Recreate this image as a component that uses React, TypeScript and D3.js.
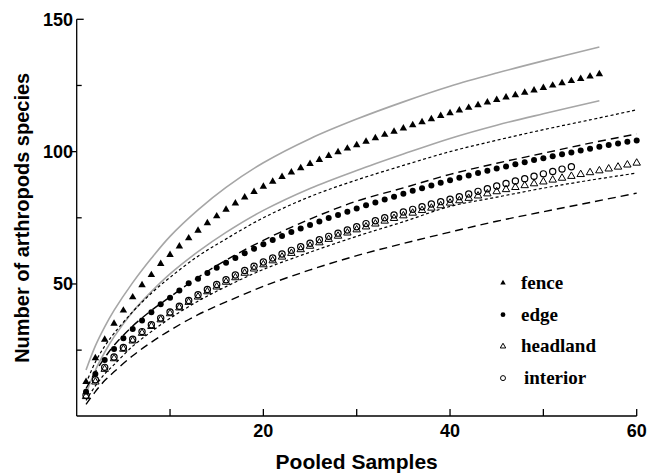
import React from "react";
import * as d3 from "d3";

// ---------- data ----------
const fenceX = d3.range(1, 57);
const fenceY = [13, 22, 29, 35, 40, 45, 49.6, 53.4, 57.6, 61, 64.2, 67.3, 70.2, 73, 75.6, 78.1, 80.5, 82.7, 84.8, 86.8,
  88.7, 90.5, 92.2, 93.8, 95.4, 96.9, 98.4, 99.8, 101.2, 102.5, 103.8, 105.1, 106.4, 107.6, 108.8, 110, 111.2, 112.3, 113.5, 114.6,
  115.6, 116.6, 117.6, 118.6, 119.6, 120.5, 121.4, 122.3, 123.2, 124.1, 125, 125.9, 126.7, 127.5, 128.4, 129.3];

const edgeX = d3.range(1, 61);
const edgeY = [9.3, 16, 21.3, 25.4, 29.5, 33, 36.2, 39.3, 42.3, 44.8, 47.5, 50.3, 52, 54.1, 56.1, 58.0, 59.8, 61.6, 63.3, 65.0,
  66.6, 68.1, 69.6, 71.0, 72.3, 73.6, 74.9, 76.1, 77.3, 78.5, 79.7, 80.8, 81.9, 83.0, 84.1, 85.2, 86.2, 87.2, 88.2, 89.2,
  90.1, 91.0, 91.9, 92.8, 93.6, 94.4, 95.2, 96.0, 96.8, 97.5, 98.3, 99.0, 99.7, 100.4, 101.1, 101.8, 102.5, 103.1, 103.7, 104.2];

const headlandX = d3.range(1, 61);
const headlandY = [7.5, 13, 17.8, 21.8, 25.4, 28.5, 31.4, 34, 36.5, 38.8, 41, 43.1, 45.1, 47.1, 48.9, 50.7, 52.4, 54.1, 55.7, 57.3,
  58.8, 60.2, 61.6, 63, 64.3, 65.6, 66.9, 68.1, 69.3, 70.5, 71.6, 72.7, 73.8, 74.8, 75.8, 76.8, 77.8, 78.7, 79.6, 80.6,
  81.5, 82.4, 83.3, 84.1, 84.9, 85.7, 86.5, 87.2, 87.9, 88.6, 89.3, 90.0, 90.7, 91.4, 92.1, 92.8, 93.5, 94.2, 95.0, 95.7];

const interiorX = d3.range(1, 54);
const interiorY = [8, 13.8, 18.5, 22.4, 26, 29.1, 32, 34.6, 37.1, 39.4, 41.6, 43.8, 45.9, 47.9, 49.8, 51.6, 53.4, 55.1, 56.7, 58.3,
  59.8, 61.3, 62.7, 64.1, 65.4, 66.7, 68.0, 69.2, 70.4, 71.6, 72.8, 73.9, 75.0, 76.1, 77.2, 78.2, 79.2, 80.2, 81.1, 82.0,
  83.0, 84.0, 85.0, 86.0, 87.0, 88.0, 88.9, 89.8, 90.7, 91.6, 92.5, 93.4, 94.3];

// confidence bands (x positions and values)
const fenceCiX = [1, 2, 3, 4, 6, 8, 10, 13, 16, 20, 25, 30, 35, 40, 45, 50, 56];
const fenceUpper = [17.5, 26.6, 33.8, 40, 50.5, 59.7, 68, 78, 86.5, 95.8, 104.9, 112.3, 118.8, 124.7, 129.7, 134.3, 139.5];
const fenceLower = [8.5, 17.4, 24.2, 30, 39.5, 47.1, 53.8, 62.2, 69.5, 77.8, 86.1, 92.9, 99.1, 105, 110, 114.3, 119.2];

const ciX = [1, 2, 3, 4, 6, 8, 10, 13, 16, 20, 25, 30, 35, 40, 45, 50, 55, 60];
const edgeUpper = [12.5, 20.5, 26.5, 31.3, 39.5, 46.5, 52.5, 60.5, 67, 75, 83, 89.3, 94.8, 100, 104.3, 108.3, 112, 115.8];
const edgeLower = [6, 11.5, 16, 19.5, 26.5, 32, 37, 43.5, 49, 55.5, 62, 68, 73.5, 79.3, 82.8, 86.2, 89.2, 91.9];
const headlandUpper = [10.5, 16.7, 22.1, 26.8, 34.1, 40, 45.1, 52.5, 59, 66.5, 74.5, 81.3, 86.3, 91.4, 95.6, 99.4, 103.2, 106.7];
const headlandLower = [4.5, 9.3, 13.5, 16.8, 22.9, 28, 32.5, 38.4, 43.2, 49.1, 55.3, 60.7, 65.3, 69.6, 73.7, 77.3, 80.8, 84.3];

const xTicksMajor = [20, 40, 60];
const xTicksMinor = [10, 30, 50];
const yTicksMajor = [50, 100];
const yTicksMinor = [25, 75, 125];
const yTop = 150;

const legendItems = ["fence", "edge", "headland", "interior"];

// ---------- layout ----------
const W = 649, H = 475;
const x = d3.scaleLinear().domain([0, 60]).range([76.7, 636.7]);
const y = d3.scaleLinear().domain([0, 150]).range([416.3, 19.3]);
const axisY = 416;

const zip = (xs: number[], ys: number[]) => xs.map((v, i) => [v, ys[i]] as [number, number]);
const line = d3.line<[number, number]>().x(d => x(d[0])).y(d => y(d[1])).curve(d3.curveCatmullRom.alpha(0.5));

const tri = d3.symbol().type(d3.symbolTriangle).size(24)()!;
const triLeg = d3.symbol().type(d3.symbolTriangle).size(13)()!;

export default function App() {
  const sans = "'Liberation Sans', Arial, sans-serif";
  const serif = "'Liberation Serif', 'Times New Roman', serif";
  return (
    <svg width={W} height={H} style={{ position: "absolute", left: 0, top: 0, background: "#fff" }}>
      <rect width={W} height={H} fill="#fff" />
      {/* axes */}
      <g stroke="#000" strokeWidth={1.3} fill="none">
        <line x1={x(0)} x2={x(60)} y1={axisY} y2={axisY} />
        <line x1={x(0)} x2={x(0)} y1={axisY} y2={y(yTop)} />
        {[...xTicksMajor, ...xTicksMinor].map(t => (
          <line key={"xt" + t} x1={x(t)} x2={x(t)} y1={axisY} y2={axisY - 7} />
        ))}
        {yTicksMajor.map(t => (
          <line key={"ytM" + t} x1={x(0) - 5} x2={x(0)} y1={y(t)} y2={y(t)} />
        ))}
        {yTicksMinor.map(t => (
          <line key={"ytm" + t} x1={x(0)} x2={x(0) + 5} y1={y(t)} y2={y(t)} />
        ))}
        <line x1={x(0)} x2={x(0) + 7} y1={y(yTop)} y2={y(yTop)} />
      </g>
      <g fontFamily={sans} fontWeight="bold" fontSize={18} fill="#000">
        {xTicksMajor.map(t => (
          <text key={"xl" + t} x={x(t)} y={437} textAnchor="middle">{t}</text>
        ))}
        {[...yTicksMajor, yTop].map(t => (
          <text key={"yl" + t} x={73} y={y(t) + 6.5} textAnchor="end">{t}</text>
        ))}
      </g>
      <text x={(x(0) + x(60)) / 2} y={469} textAnchor="middle" fontFamily={sans} fontWeight="bold" fontSize={21}>Pooled Samples</text>
      <text transform={`translate(29,${(y(0) + y(150)) / 2}) rotate(-90)`} textAnchor="middle" fontFamily={sans} fontWeight="bold" fontSize={20}>Number of arthropods species</text>

      {/* confidence lines */}
      <g fill="none">
        <path d={line(zip(fenceCiX, fenceUpper))!} stroke="#a6a6a6" strokeWidth={1.6} />
        <path d={line(zip(fenceCiX, fenceLower))!} stroke="#a6a6a6" strokeWidth={1.6} />
        <path d={line(zip(ciX, edgeUpper))!} stroke="#000" strokeWidth={1.2} strokeDasharray="3,2.5" />
        <path d={line(zip(ciX, edgeLower))!} stroke="#000" strokeWidth={1.2} strokeDasharray="3,2.5" />
        <path d={line(zip(ciX, headlandUpper))!} stroke="#000" strokeWidth={1.4} strokeDasharray="8,5" />
        <path d={line(zip(ciX, headlandLower))!} stroke="#000" strokeWidth={1.4} strokeDasharray="8,5" />
      </g>

      {/* markers */}
      <g>
        {zip(fenceX, fenceY).map((d, i) => (
          <path key={"f" + i} d={tri} transform={`translate(${x(d[0])},${y(d[1])})`} fill="#000" />
        ))}
        {zip(edgeX, edgeY).map((d, i) => (
          <circle key={"e" + i} cx={x(d[0])} cy={y(d[1])} r={3} fill="#000" />
        ))}
        {zip(headlandX, headlandY).map((d, i) => (
          <path key={"h" + i} d={tri} transform={`translate(${x(d[0])},${y(d[1])})`} fill="none" stroke="#000" strokeWidth={1} />
        ))}
        {zip(interiorX, interiorY).map((d, i) => (
          <circle key={"i" + i} cx={x(d[0])} cy={y(d[1])} r={3.1} fill="none" stroke="#000" strokeWidth={1.2} />
        ))}
      </g>

      {/* legend */}
      <g fontFamily={serif} fontWeight="bold" fontSize={19} fill="#000">
        {legendItems.map((name, i) => {
          const ly = 283 + i * 31.7;
          return (
            <g key={name}>
              {i === 0 && <path d={triLeg} transform={`translate(503,${ly})`} fill="#000" />}
              {i === 1 && <circle cx={503} cy={ly} r={2.4} fill="#000" />}
              {i === 2 && <path d={triLeg} transform={`translate(503,${ly})`} fill="none" stroke="#000" strokeWidth={1} />}
              {i === 3 && <circle cx={503} cy={ly} r={2.5} fill="none" stroke="#000" strokeWidth={1} />}
              <text x={i === 3 ? 524 : 521} y={ly + 6}>{name}</text>
            </g>
          );
        })}
      </g>
    </svg>
  );
}
